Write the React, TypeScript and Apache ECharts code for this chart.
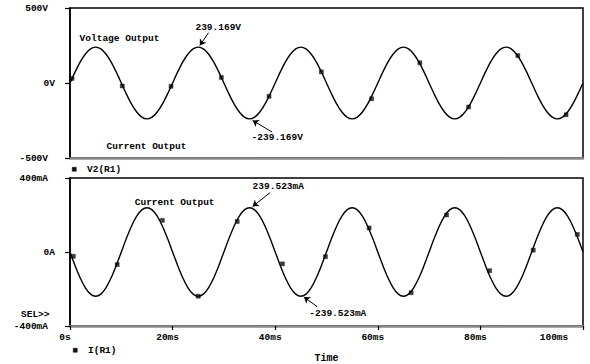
import React, { useEffect, useRef } from "react";
import * as echarts from "echarts";

// Sample step of the traces (ms)
const timeStepMs = 1;

// V2(R1) trace in volts, one sample per ms from 0 to 100 ms
const voltageV = [
  0, 73.9, 140.6, 193.5, 227.5, 239.2, 227.5, 193.5, 140.6, 73.9, 0, -73.9, -140.6, -193.5, -227.5, -239.2, -227.5, -193.5, -140.6, -73.9,
  0, 73.9, 140.6, 193.5, 227.5, 239.2, 227.5, 193.5, 140.6, 73.9, 0, -73.9, -140.6, -193.5, -227.5, -239.2, -227.5, -193.5, -140.6, -73.9,
  0, 73.9, 140.6, 193.5, 227.5, 239.2, 227.5, 193.5, 140.6, 73.9, 0, -73.9, -140.6, -193.5, -227.5, -239.2, -227.5, -193.5, -140.6, -73.9,
  0, 73.9, 140.6, 193.5, 227.5, 239.2, 227.5, 193.5, 140.6, 73.9, 0, -73.9, -140.6, -193.5, -227.5, -239.2, -227.5, -193.5, -140.6, -73.9,
  0, 73.9, 140.6, 193.5, 227.5, 239.2, 227.5, 193.5, 140.6, 73.9, 0, -73.9, -140.6, -193.5, -227.5, -239.2, -227.5, -193.5, -140.6, -73.9,
  0,
];

// I(R1) trace in mA, one sample per ms from 0 to 100 ms
const currentMA = [
  0, -74.0, -140.8, -193.8, -227.8, -239.5, -227.8, -193.8, -140.8, -74.0, 0, 74.0, 140.8, 193.8, 227.8, 239.5, 227.8, 193.8, 140.8, 74.0,
  0, -74.0, -140.8, -193.8, -227.8, -239.5, -227.8, -193.8, -140.8, -74.0, 0, 74.0, 140.8, 193.8, 227.8, 239.5, 227.8, 193.8, 140.8, 74.0,
  0, -74.0, -140.8, -193.8, -227.8, -239.5, -227.8, -193.8, -140.8, -74.0, 0, 74.0, 140.8, 193.8, 227.8, 239.5, 227.8, 193.8, 140.8, 74.0,
  0, -74.0, -140.8, -193.8, -227.8, -239.5, -227.8, -193.8, -140.8, -74.0, 0, 74.0, 140.8, 193.8, 227.8, 239.5, 227.8, 193.8, 140.8, 74.0,
  0, -74.0, -140.8, -193.8, -227.8, -239.5, -227.8, -193.8, -140.8, -74.0, 0, 74.0, 140.8, 193.8, 227.8, 239.5, 227.8, 193.8, 140.8, 74.0,
  0,
];

// Trace marker squares [ms, value]
const voltageMarkers = [
  [0.4, 30], [10.2, -20], [19.7, -22], [29.5, 37], [38.8, -89], [49.0, 74],
  [58.8, -105], [68.2, 135], [77.7, -160], [87.3, 183], [96.7, -212],
];
const currentMarkers = [
  [0.65, -23], [9.2, -68], [18.0, 171], [25.0, -239], [32.6, 165], [41.4, -64],
  [49.8, -25], [58.3, 130], [66.5, -220], [73.4, 200], [81.8, -101], [90.3, 10], [98.9, 95],
];

// Tick values
const timeTicks = { min: 0, max: 100, interval: 20 };
const voltTicks = { min: -500, max: 500, interval: 500 };
const ampTicks = { min: -400, max: 400, interval: 400 };

// Annotations: text [ms, value, label], arrows [[from],[to]]
const voltageTexts: [number, number, string][] = [
  [28.9, 367, "239.169V"],
  [40.4, -360, "-239.169V"],
  [9.65, 300, "Voltage Output"],
  [14.9, -420, "Current Output"],
];
const voltageArrows = [
  [[27.0, 335], [25.3, 250]],
  [[39.4, -327], [35.6, -250]],
];
const currentTexts: [number, number, string][] = [
  [40.6, 353, "239.523mA"],
  [52.2, -333, "-239.523mA"],
  [20.4, 270, "Current Output"],
];
const currentArrows = [
  [[39.0, 321], [35.6, 246]],
  [[48.2, -296], [45.6, -243]],
];

const FONT = "Liberation Mono";
const FS = 9.5;

const textPoints = (items: [number, number, string][]) =>
  items.map(([t, v, s]) => ({
    coord: [t, v],
    symbol: "rect",
    symbolSize: 1,
    itemStyle: { color: "transparent" },
    label: {
      show: true,
      position: "inside",
      formatter: s,
      color: "#000",
      fontFamily: FONT,
      fontWeight: "bold",
      fontSize: FS,
    },
  }));

const arrowLines = (items: number[][][]) =>
  items.map(([a, b]) => [{ coord: a }, { coord: b }]);

export default function App() {
  const ref = useRef<HTMLDivElement>(null);
  useEffect(() => {
    if (!ref.current) return;
    const chart = echarts.init(ref.current, null, { renderer: "svg" });
    const times = voltageV.map((_, i) => i * timeStepMs);
    const vData = voltageV.map((v, i) => [times[i], v]);
    const iData = currentMA.map((v, i) => [times[i], v]);

    const labelStyle = { fontFamily: FONT, fontWeight: "bold", fontSize: FS, color: "#000" };

    const yAxisBase = (unitFmt: (v: number) => string) => ({
      type: "value",
      axisLine: { show: true, onZero: false, lineStyle: { color: "#000", width: 1.5 } },
      axisTick: { show: true, length: 5, lineStyle: { color: "#000", width: 1.2 } },
      splitLine: { show: false },
      axisLabel: {
        margin: 15,
        formatter: (v: number) => (v === 0 ? `{z|${unitFmt(v)}}` : `{n|${unitFmt(v)}}`),
        rich: {
          z: { ...labelStyle },
          n: { ...labelStyle, padding: [0, 7, 0, 0] },
        },
      },
    });

    const markLineStyle = {
      silent: true,
      symbol: ["none", "arrow"],
      symbolSize: 6,
      lineStyle: { color: "#000", width: 1, type: "solid" },
      label: { show: false },
      emphasis: { disabled: true },
    };

    const markerStyle = { color: "#111", borderColor: "#000", borderWidth: 0.5 };

    chart.setOption({
      animation: false,
      backgroundColor: "#fff",
      grid: [
        { left: 70, top: 8, width: 513, height: 150, show: true, borderColor: "#000", borderWidth: 1.5 },
        { left: 70, top: 178, width: 513, height: 151, show: true, borderColor: "#000", borderWidth: 1.5 },
      ],
      xAxis: [
        {
          gridIndex: 0,
          type: "value",
          ...timeTicks,
          axisLine: { show: true, onZero: false, lineStyle: { color: "#8a8a8a", width: 2.5 } },
          axisTick: { show: false },
          axisLabel: { show: false },
          splitLine: { show: false },
        },
        {
          gridIndex: 1,
          type: "value",
          ...timeTicks,
          axisLine: { show: true, onZero: false, lineStyle: { color: "#8a8a8a", width: 2.5 } },
          axisTick: { show: true, length: 4, lineStyle: { color: "#000", width: 1.2 } },
          splitLine: { show: false },
          axisLabel: {
            margin: 6,
            formatter: (v: number) =>
              v === 0 ? "{n|0s}" : v === timeTicks.max ? `{l|${v}ms}` : `{n|${v}ms}`,
            rich: {
              n: { ...labelStyle, padding: [0, 10, 0, 0] },
              l: { ...labelStyle, padding: [0, 58, 0, 0] },
            },
          },
          name: "Time",
          nameLocation: "middle",
          nameGap: 27,
          nameTextStyle: { ...labelStyle, fontSize: 10 },
        },
      ],
      yAxis: [
        { gridIndex: 0, ...voltTicks, ...yAxisBase((v) => `${v}V`) },
        { gridIndex: 1, ...ampTicks, ...yAxisBase((v) => (v === 0 ? "0A" : `${v}mA`)) },
      ],
      series: [
        {
          type: "line",
          xAxisIndex: 0,
          yAxisIndex: 0,
          data: vData,
          showSymbol: false,
          smooth: 0.3,
          lineStyle: { color: "#000", width: 1.4 },
          itemStyle: { color: "#000" },
          markPoint: { silent: true, data: textPoints(voltageTexts) },
          markLine: { ...markLineStyle, data: arrowLines(voltageArrows) },
        },
        {
          type: "scatter",
          xAxisIndex: 0,
          yAxisIndex: 0,
          data: voltageMarkers,
          symbol: "rect",
          symbolSize: 4,
          itemStyle: markerStyle,
        },
        {
          type: "line",
          xAxisIndex: 1,
          yAxisIndex: 1,
          data: iData,
          showSymbol: false,
          smooth: 0.3,
          lineStyle: { color: "#000", width: 1.4 },
          itemStyle: { color: "#000" },
          markPoint: { silent: true, data: textPoints(currentTexts) },
          markLine: { ...markLineStyle, data: arrowLines(currentArrows) },
        },
        {
          type: "scatter",
          xAxisIndex: 1,
          yAxisIndex: 1,
          data: currentMarkers,
          symbol: "rect",
          symbolSize: 4,
          itemStyle: markerStyle,
        },
      ],
      graphic: [
        { type: "rect", left: 72, top: 167, shape: { width: 4, height: 4 }, style: { fill: "#111", stroke: "#000", lineWidth: 0.5 } },
        { type: "text", left: 87, top: 164, style: { text: "V2(R1)", font: `bold ${FS}px "${FONT}"`, fill: "#000" } },
        { type: "text", left: 21, top: 309, style: { text: "SEL>>", font: `bold ${FS}px "${FONT}"`, fill: "#000" } },
        { type: "rect", left: 73, top: 348, shape: { width: 4, height: 4 }, style: { fill: "#111", stroke: "#000", lineWidth: 0.5 } },
        { type: "text", left: 88, top: 345, style: { text: "I(R1)", font: `bold ${FS}px "${FONT}"`, fill: "#000" } },
      ],
    });
    return () => chart.dispose();
  }, []);
  return (
    <div
      ref={ref}
      style={{ position: "fixed", left: 0, top: 0, width: 590, height: 364, background: "#fff" }}
    />
  );
}
